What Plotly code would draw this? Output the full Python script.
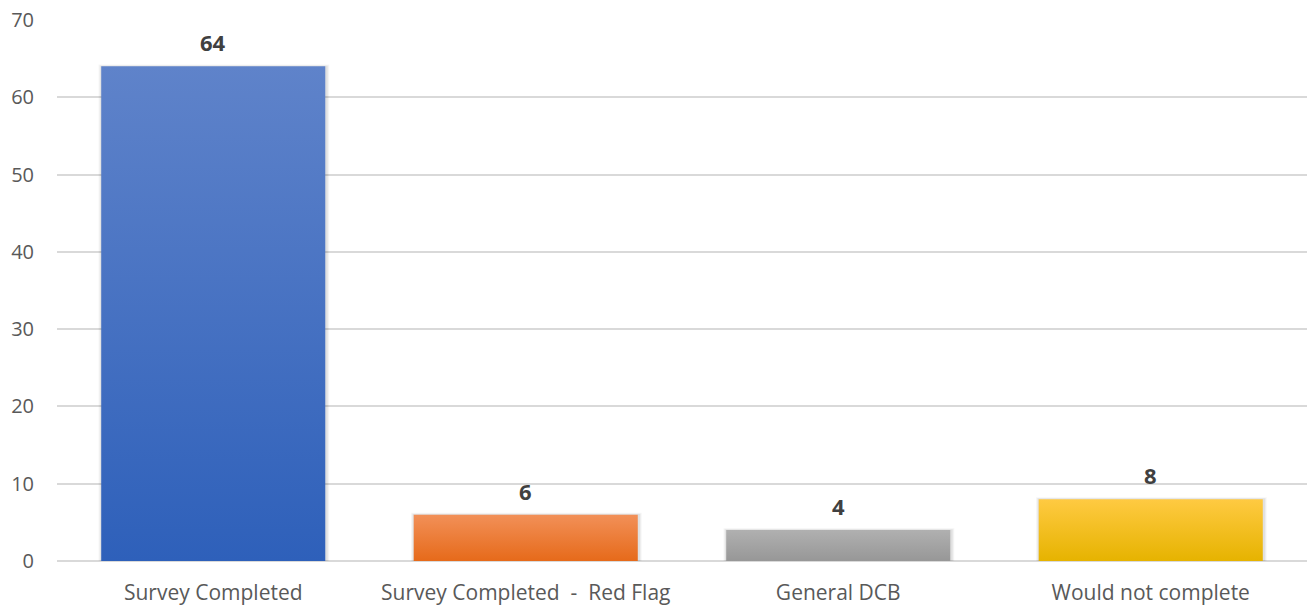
import plotly.graph_objects as go

categories = ["Survey Completed", "Survey Completed  -  Red Flag", "General DCB", "Would not complete"]
counts = [64, 6, 4, 8]
top_colors = ["#5F83CA", "#F29058", "#B0B0B0", "#FFCA42"]
bottom_colors = ["#2E60BA", "#E66A1A", "#979797", "#E6B300"]

bar_width = 0.717
half = bar_width / 2

fig = go.Figure()

for i, (cat, v) in enumerate(zip(categories, counts)):
    # faint blurred shadow behind each bar, built from a few widening layers
    for k, alpha in enumerate([0.05, 0.04, 0.03]):
        pad = 0.003 * (k + 1)
        fig.add_trace(go.Scatter(
            x=[i - half - pad, i + half + pad + 0.004, i + half + pad + 0.004, i - half - pad, i - half - pad],
            y=[0, 0, v + 0.08 * (k + 1), v + 0.08 * (k + 1), 0],
            fill="toself", mode="lines", line=dict(width=0),
            fillcolor=f"rgba(0,0,0,{alpha})", hoverinfo="skip", showlegend=False,
        ))
    fig.add_trace(go.Scatter(
        x=[i - half, i + half, i + half, i - half, i - half],
        y=[0, 0, v, v, 0],
        fill="toself", mode="lines", line=dict(width=0),
        fillgradient=dict(type="vertical",
                          colorscale=[[0, bottom_colors[i]], [1, top_colors[i]]]),
        name=cat, hovertemplate=f"{cat}: {v}<extra></extra>", showlegend=False,
    ))
    fig.add_annotation(
        x=i, y=v, text=f"<b>{v}</b>", showarrow=False,
        yanchor="bottom", yshift=7,
        font=dict(family="Open Sans", size=22, color="#404040"),
    )

fig.update_layout(
    width=1308, height=608,
    margin=dict(l=57, r=1, t=20, b=47),
    plot_bgcolor="white", paper_bgcolor="white",
    font=dict(family="Open Sans", size=20, color="#595959"),
    xaxis=dict(
        range=[-0.5, 3.5], tickvals=list(range(len(categories))), ticktext=categories,
        showgrid=False, zeroline=False, showline=False, ticks="",
        tickfont=dict(size=21, color="#595959"), ticklabelstandoff=17,
    ),
    yaxis=dict(
        range=[0, 70], dtick=10, showgrid=True, gridcolor="#D9D9D9", gridwidth=1.5,
        zeroline=True, zerolinecolor="#D9D9D9", zerolinewidth=1.5,
        showline=False, ticks="", tickfont=dict(size=20, color="#595959"),
        ticklabelstandoff=22,
    ),
)

fig.write_html("out.html")
